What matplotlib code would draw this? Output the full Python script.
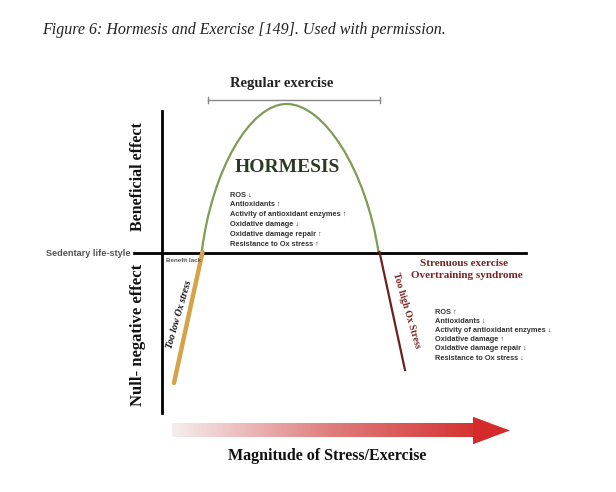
import numpy as np
import matplotlib.pyplot as plt
from matplotlib.patches import Polygon, PathPatch
from matplotlib.path import Path
from matplotlib.colors import LinearSegmentedColormap

# diagram geometry (pixel units, y grows downward)
# hormesis arch as two cubic bezier halves: start, control, control, end
arch_left_x = [201.7, 212.0, 250.0, 286.7]
arch_left_y = [252.0, 170.0, 104.0, 104.0]
arch_right_x = [286.7, 324.0, 366.0, 378.5]
arch_right_y = [104.0, 104.0, 170.0, 252.0]
low_line_x = [202.5, 174.0]
low_line_y = [252.0, 383.0]
high_line_x = [379.5, 405.0]
high_line_y = [252.0, 370.0]
arrow_x = [172, 473, 473, 510, 473, 473, 172]
arrow_y = [423, 423, 417, 430.5, 444, 437, 437]

effects = ["ROS", "Antioxidants", "Activity of antioxidant enzymes",
           "Oxidative damage", "Oxidative damage repair",
           "Resistance to Ox stress"]
hormesis_marks = ["\u2193", "\u2191", "\u2191", "\u2193", "\u2191", "\u2191"]
strenuous_marks = ["\u2191", "\u2193", "\u2193", "\u2191", "\u2193", "\u2193"]

serif = ['Liberation Serif', 'DejaVu Serif']
sans = ['Liberation Sans', 'DejaVu Sans']
dark_red = '#7a2424'

fig = plt.figure(figsize=(6.16, 4.92), dpi=100)
ax = fig.add_axes([0, 0, 1, 1])
ax.set_xlim(0, 616)
ax.set_ylim(492, 0)
ax.axis('off')

# title
ax.text(42, 30, "Figure 6: Hormesis and Exercise [149]. Used with permission.",
        family=serif, style='italic', fontsize=11.5, color='#222222',
        va='center', ha='left')

# regular exercise bracket
ax.text(282, 83, "Regular exercise", family=serif, weight='bold',
        fontsize=10.5, ha='center', va='center', color='#222222')
ax.plot([208, 380], [100, 100], color='#888888', lw=1)
ax.plot([208, 208], [97, 103], color='#888888', lw=1)
ax.plot([380, 380], [97, 103], color='#888888', lw=1)

# axes of the diagram
ax.plot([162, 162], [111, 413], color='black', lw=2)
ax.plot([134, 526], [252.5, 252.5], color='black', lw=2)

# curves
ax.plot(low_line_x, low_line_y, color='#d6a24a', lw=3.2, solid_capstyle='round')
verts = list(zip(arch_left_x, arch_left_y)) + list(zip(arch_right_x, arch_right_y))[1:]
codes = [Path.MOVETO] + [Path.CURVE4] * 6
ax.add_patch(PathPatch(Path(verts, codes), facecolor='none',
                       edgecolor='#7f9c55', lw=1.6))
ax.plot(high_line_x, high_line_y, color='#6e2020', lw=1.6)

# labels on the left
ax.text(138, 177, "Beneficial effect", family=serif, weight='bold',
        fontsize=11.5, rotation=90, ha='center', va='center', color='#111111')
ax.text(138, 335, "Null- negative effect", family=serif, weight='bold',
        fontsize=12, rotation=90, ha='center', va='center', color='#111111')
ax.text(131, 253, "Sedentary life-style", family=sans, weight='bold',
        fontsize=6.6, ha='right', va='center', color='#555555')
ax.text(166, 260, "Benefit lack", family=sans, weight='bold', fontsize=4.5,
        ha='left', va='center', color='#555555')

# hormesis block
ax.text(287, 167, "HORMESIS", family=serif, weight='bold', fontsize=14,
        ha='center', va='center', color='#2b3a22')
for i, (name, mark) in enumerate(zip(effects, hormesis_marks)):
    ax.text(229.5, 195 + i * 9.8, name + " " + mark, family=sans,
            weight='bold', fontsize=5.3, ha='left', va='center',
            color='#333333')

# strenuous block
ax.text(464, 264, "Strenuous exercise", family=serif, weight='bold',
        fontsize=8, ha='center', va='center', color=dark_red)
ax.text(467, 276, "Overtraining syndrome", family=serif, weight='bold',
        fontsize=8, ha='center', va='center', color=dark_red)
for i, (name, mark) in enumerate(zip(effects, strenuous_marks)):
    ax.text(435, 312 + i * 9.2, name + " " + mark, family=sans,
            weight='bold', fontsize=5.3, ha='left', va='center',
            color='#333333')

# rotated stress labels
ax.text(179, 314, "Too low Ox stress", family=serif, weight='bold',
        style='italic', fontsize=7, rotation=74, ha='center', va='center',
        rotation_mode='anchor', color='#111111')
ax.text(406, 310, "Too high Ox Stress", family=serif, weight='bold',
        fontsize=7, rotation=-73.6, ha='center', va='center',
        rotation_mode='anchor', color=dark_red)

# gradient arrow for the stress magnitude
arrow = Polygon(np.column_stack([arrow_x, arrow_y]), closed=True,
                facecolor='none', edgecolor='none')
ax.add_patch(arrow)
shade = np.linspace(0, 1, 256).reshape(1, -1)
cmap = LinearSegmentedColormap.from_list('stress', ['#f6eeee', '#e07d7d', '#d42a2a'])
img = ax.imshow(shade, cmap=cmap, extent=[172, 490, 444, 417], aspect='auto',
                interpolation='bilinear', zorder=1)
img.set_clip_path(arrow)
head = Polygon(np.column_stack([arrow_x[2:5], arrow_y[2:5]]), closed=True,
               facecolor='#d42a2a', edgecolor='none', zorder=2)
ax.add_patch(head)

ax.text(327, 456, "Magnitude of Stress/Exercise", family=serif, weight='bold',
        fontsize=11.5, ha='center', va='center', color='#111111')

fig.savefig('out.png', dpi=100)
